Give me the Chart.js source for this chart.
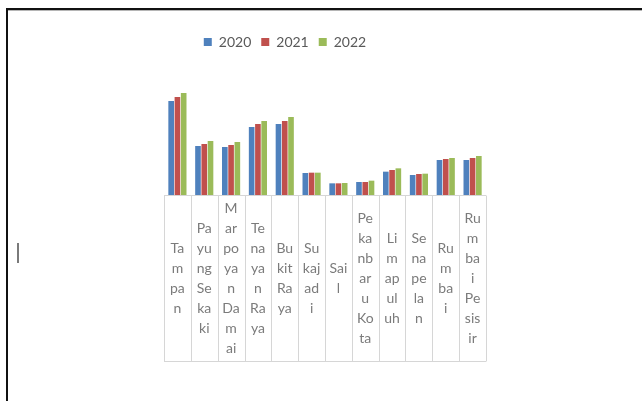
<!DOCTYPE html>
<html>
<head>
<meta charset="utf-8">
<script src="https://cdn.jsdelivr.net/npm/chart.js@4/dist/chart.umd.min.js"></script>
<style>
  html, body { margin: 0; padding: 0; background: #fff; width: 642px; height: 401px; overflow: hidden; }
  #frame { position: absolute; left: 6px; top: 8px; width: 650px; height: 410px;
           border-top: 2px solid #111; border-left: 2px solid #111; box-shadow: inset 0 1px 0 #b5b5b5; }
  #caret { position: absolute; left: 17px; top: 243px; width: 2px; height: 20px; background: #7a7a7a; }
  #c { position: absolute; left: 0; top: 0; }
</style>
</head>
<body>
<div id="frame"></div>
<div id="caret"></div>
<canvas id="c" width="642" height="401"></canvas>
<script>
// Districts (kecamatan) shown on the category axis
const categories = ['Tampan', 'Payung Sekaki', 'Marpoyan Damai', 'Tenayan Raya', 'Bukit Raya',
  'Sukajadi', 'Sail', 'Pekanbaru Kota', 'Limapuluh', 'Senapelan', 'Rumbai', 'Rumbai Pesisir'];

// Category labels as they wrap inside their narrow table cells
const tickLines = [
  ['Ta', 'm', 'pa', 'n'],
  ['Pa', 'yu', 'ng', 'Se', 'ka', 'ki'],
  ['M', 'ar', 'po', 'ya', 'n', 'Da', 'm', 'ai'],
  ['Te', 'na', 'ya', 'n', 'Ra', 'ya'],
  ['Bu', 'kit', 'Ra', 'ya'],
  ['Su', 'kaj', 'ad', 'i'],
  ['Sai', 'l'],
  ['Pe', 'ka', 'nb', 'ar', 'u', 'Ko', 'ta'],
  ['Li', 'm', 'ap', 'ul', 'uh'],
  ['Se', 'na', 'pe', 'la', 'n'],
  ['Ru', 'm', 'ba', 'i'],
  ['Ru', 'm', 'ba', 'i', 'Pe', 'sis', 'ir']
];

const seriesNames = ['2020', '2021', '2022'];
const values2020 = [282, 147, 144, 204, 213, 66, 35, 39, 70, 60, 105, 105];
const values2021 = [294, 153, 150, 213, 222, 67, 35, 39, 75, 63, 108, 111];
const values2022 = [306, 162, 159, 222, 234, 67, 36, 43, 80, 64, 111, 117];

const seriesColors = ['#4F81BD', '#C0504D', '#9BBB59'];

// Draws the label table under the bars: one cell per category, positioned from the x scale
const labelTable = {
  id: 'labelTable',
  afterDatasetsDraw(chart) {
    const xs = chart.scales.x;
    const area = chart.chartArea;
    const ctx = chart.ctx;
    const n = categories.length;
    const step = xs.getPixelForValue(1) - xs.getPixelForValue(0);
    const top = Math.round(area.bottom) + 0.5;
    const bottom = top + 166;
    const lineH = 20;
    ctx.save();
    ctx.strokeStyle = '#d6d6d6';
    ctx.lineWidth = 1;
    ctx.beginPath();
    const left = xs.getPixelForValue(0) - step / 2;
    const right = xs.getPixelForValue(n - 1) + step / 2;
    ctx.moveTo(left, top); ctx.lineTo(right, top);
    ctx.moveTo(left, bottom); ctx.lineTo(right, bottom);
    for (let i = 0; i <= n; i++) {
      const gx = Math.round(xs.getPixelForValue(i) - step / 2) + 0.5;
      ctx.moveTo(gx, top); ctx.lineTo(gx, bottom);
    }
    ctx.stroke();
    ctx.fillStyle = '#7b7b7b';
    ctx.font = '14px Lato';
    ctx.textAlign = 'center';
    ctx.textBaseline = 'middle';
    const mid = (top + bottom) / 2;
    tickLines.forEach((lines, i) => {
      const cx = xs.getPixelForValue(i);
      const y0 = mid - (lines.length - 1) * lineH / 2;
      lines.forEach((t, k) => ctx.fillText(t, cx, y0 + k * lineH));
    });
    ctx.restore();
  }
};

new Chart(document.getElementById('c'), {
  type: 'bar',
  data: {
    labels: categories,
    datasets: [
      { label: seriesNames[0], data: values2020, backgroundColor: seriesColors[0] },
      { label: seriesNames[1], data: values2021, backgroundColor: seriesColors[1] },
      { label: seriesNames[2], data: values2022, backgroundColor: seriesColors[2] }
    ]
  },
  options: {
    responsive: false,
    animation: false,
    layout: { padding: { left: 84, right: 156, top: 25, bottom: 206 } },
    datasets: { bar: { categoryPercentage: 0.7, barPercentage: 0.9 } },
    scales: {
      x: { display: false },
      y: {
        display: true,
        min: 0,
        max: 408,
        ticks: { display: false },
        grid: { display: false },
        border: { display: false },
        afterFit(scale) { scale.width = 80; }
      }
    },
    plugins: {
      legend: {
        position: 'top',
        labels: {
          boxWidth: 8,
          boxHeight: 8,
          padding: 10,
          color: '#595959',
          font: { family: 'Lato', size: 14 }
        }
      },
      tooltip: { enabled: false }
    }
  },
  plugins: [labelTable]
});
</script>
</body>
</html>
